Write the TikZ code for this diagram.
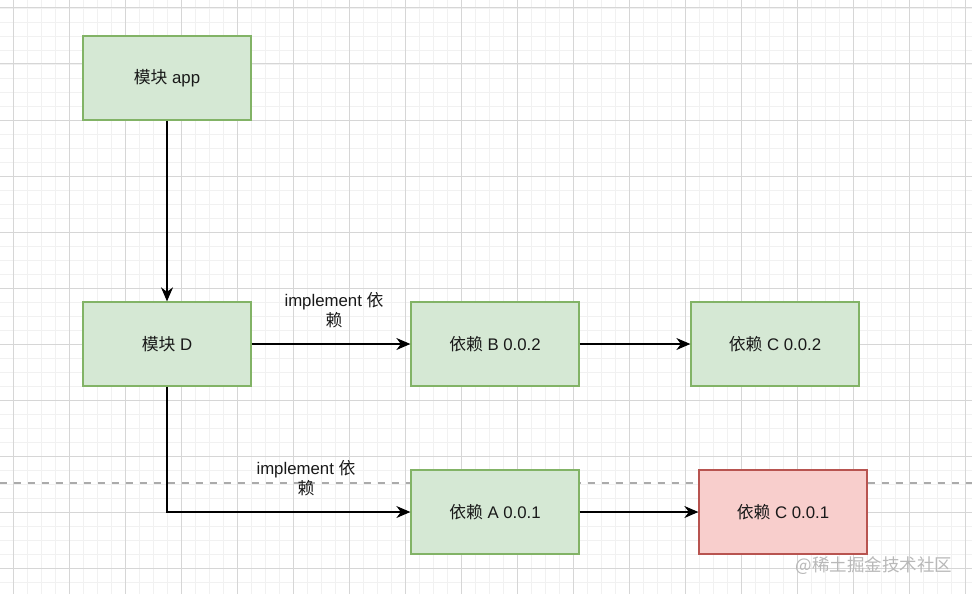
\documentclass[tikz,border=0pt]{standalone}
\usepackage{fontspec}
\setmainfont{Liberation Sans}
\newfontfamily\cjkfont{Noto Sans CJK SC}
\newcommand{\zh}[1]{{\cjkfont #1}}
\usetikzlibrary{arrows.meta}
\definecolor{gfill}{HTML}{D5E8D4}
\definecolor{gline}{HTML}{82B366}
\definecolor{rfill}{HTML}{F8CECC}
\definecolor{rline}{HTML}{B85450}
\definecolor{minorgrid}{HTML}{F1F1F1}
\definecolor{majorgrid}{HTML}{D6D6D6}
\definecolor{divgray}{HTML}{ABABAB}
\tikzset{
  basebox/.style={rectangle, minimum width=168pt, minimum height=84pt, inner sep=0pt, line width=1.3pt, font=\fontsize{16.8}{20}\selectfont, text=black!90},
  gbox/.style={basebox, draw=gline, fill=gfill},
  rbox/.style={basebox, draw=rline, fill=rfill},
  conn/.style={line width=1.4pt, -{Stealth[length=14pt, width=12pt, inset=4.5pt]}},
  lbl/.style={align=center, inner sep=0pt, font=\fontsize{16.8}{19.5}\selectfont, text=black!90},
  minorline/.style={line width=0.8pt, draw=minorgrid},
  majorline/.style={line width=1pt, draw=majorgrid},
  divline/.style={line width=1.4pt, draw=divgray, dash pattern=on 7pt off 7pt},
  wm/.style={inner sep=0pt, text=black!28, font=\fontsize{17.5}{20}\selectfont}
}
\begin{document}
\begin{tikzpicture}[x=1pt, y=-1pt]
\useasboundingbox (0,0) rectangle (972,594);
\fill[white] (0,0) rectangle (972,594);
% grid
\foreach \x in {-1,13,...,980} \draw[minorline] (\x,0) -- (\x,594);
\foreach \y in {8,22,...,600} \draw[minorline] (0,\y) -- (972,\y);
\foreach \x in {13,69,...,980} \draw[majorline] (\x,0) -- (\x,594);
\foreach \y in {8,64,...,600} \draw[majorline] (0,\y) -- (972,\y);
% divider
\coordinate (dl) at (0,483);
\coordinate (dr) at (972,483);
\draw[divline] (dl) -- (dr);
% boxes
\node[gbox] (app) at (167,78) {\zh{模块} app};
\node[gbox] (D) at (167,344) {\zh{模块} D};
\node[gbox] (B) at (495,344) {\zh{依赖} B 0.0.2};
\node[gbox] (C2) at (775,344) {\zh{依赖} C 0.0.2};
\node[gbox] (A) at (495,512) {\zh{依赖} A 0.0.1};
\node[rbox] (C1) at (783,512) {\zh{依赖} C 0.0.1};
% connectors
\draw[conn] (app) -- (D);
\draw[conn] (D) -- (B);
\draw[conn] (B) -- (C2);
\draw[conn] (D.south) |- (A.west);
\draw[conn] (A) -- (C1);
% labels
\node[lbl] (l1) at (334,310) {implement \zh{依}\\\zh{赖}};
\node[lbl] (l2) at (306,478) {implement \zh{依}\\\zh{赖}};
% watermark
\node[wm] (wm) at (874,566) {\zh{@稀土掘金技术社区}};
\end{tikzpicture}
\end{document}
